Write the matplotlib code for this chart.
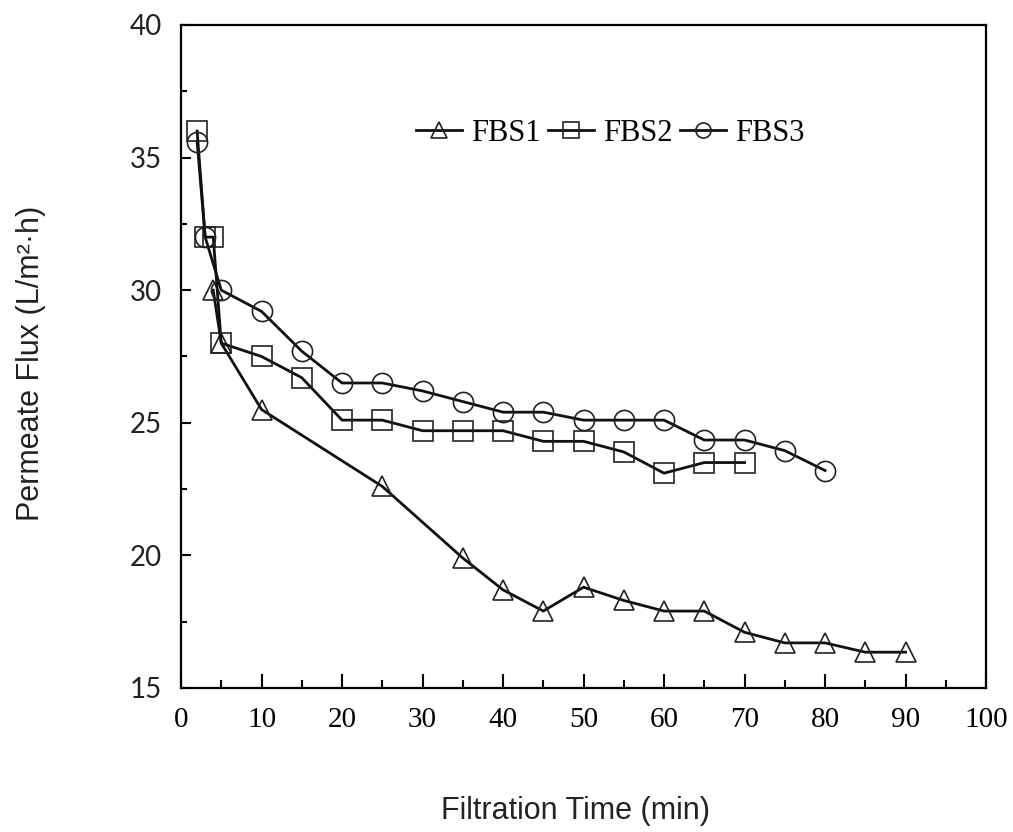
import matplotlib
matplotlib.use("Agg")
import matplotlib.pyplot as plt
from matplotlib.ticker import MultipleLocator

# data
t_fbs1 = [4, 5, 10, 25, 35, 40, 45, 50, 55, 60, 65, 70, 75, 80, 85, 90]
flux_fbs1 = [30.0, 28.0, 25.5, 22.6, 19.9, 18.7, 17.9, 18.8, 18.3, 17.9, 17.9, 17.1, 16.7, 16.7, 16.35, 16.35]

t_fbs2 = [2, 3, 4, 5, 10, 15, 20, 25, 30, 35, 40, 45, 50, 55, 60, 65, 70]
flux_fbs2 = [36.0, 32.0, 32.0, 28.0, 27.5, 26.7, 25.1, 25.1, 24.7, 24.7, 24.7, 24.3, 24.3, 23.9, 23.1, 23.5, 23.5]

t_fbs3 = [2, 3, 5, 10, 15, 20, 25, 30, 35, 40, 45, 50, 55, 60, 65, 70, 75, 80]
flux_fbs3 = [35.6, 32.0, 30.0, 29.2, 27.7, 26.5, 26.5, 26.2, 25.8, 25.4, 25.4, 25.1, 25.1, 25.1, 24.35, 24.35, 23.95, 23.2]

series = [
    ("FBS1", t_fbs1, flux_fbs1, "^"),
    ("FBS2", t_fbs2, flux_fbs2, "s"),
    ("FBS3", t_fbs3, flux_fbs3, "o"),
]

fig = plt.figure(figsize=(10.13, 8.32), dpi=100)
ax = fig.add_axes([0.1787, 0.1731, 0.7947, 0.7969])

for name, t, flux, mk in series:
    ax.plot(t, flux, color="#111111", lw=2.0, marker=mk, ms=14.5,
            mfc="none", mec="#222222", mew=1.2, label=name)

ax.set_xlim(0, 100)
ax.set_ylim(15, 40)
ax.xaxis.set_major_locator(MultipleLocator(10))
ax.xaxis.set_minor_locator(MultipleLocator(5))
ax.yaxis.set_major_locator(MultipleLocator(5))
ax.yaxis.set_minor_locator(MultipleLocator(2.5))

ax.tick_params(axis="x", which="major", direction="in", length=10, width=1.5, pad=14)
ax.tick_params(axis="x", which="minor", direction="in", length=6, width=1.5)
ax.tick_params(axis="y", which="major", direction="in", length=7, width=1.5, pad=14)
ax.tick_params(axis="y", which="minor", direction="in", length=4, width=1.5)

for lab in ax.get_xticklabels():
    lab.set_fontfamily("Liberation Serif")
    lab.set_fontsize(21)
for lab in ax.get_yticklabels():
    lab.set_fontfamily("Lato")
    lab.set_fontsize(20)
    lab.set_color("#222222")

for sp in ax.spines.values():
    sp.set_linewidth(1.6)

ax.set_xlabel("Filtration Time (min)", fontfamily="Liberation Sans", fontsize=22, color="#222222")
ax.xaxis.set_label_coords(0.49, -0.185)
ax.xaxis.label.set_va("center")
ax.set_ylabel("Permeate Flux (L/m²·h)", fontfamily="Liberation Sans", fontsize=22, color="#222222")
ax.yaxis.set_label_coords(-0.186, 0.49)
ax.yaxis.label.set_va("center")

ax.legend(loc="center", bbox_to_anchor=(0.533, 0.837), ncol=3, frameon=False,
          prop={"family": "Liberation Serif", "size": 22}, handlelength=1.5,
          handletextpad=0.3, columnspacing=0.25, markerscale=0.75)

fig.savefig("out.png", dpi=100)
